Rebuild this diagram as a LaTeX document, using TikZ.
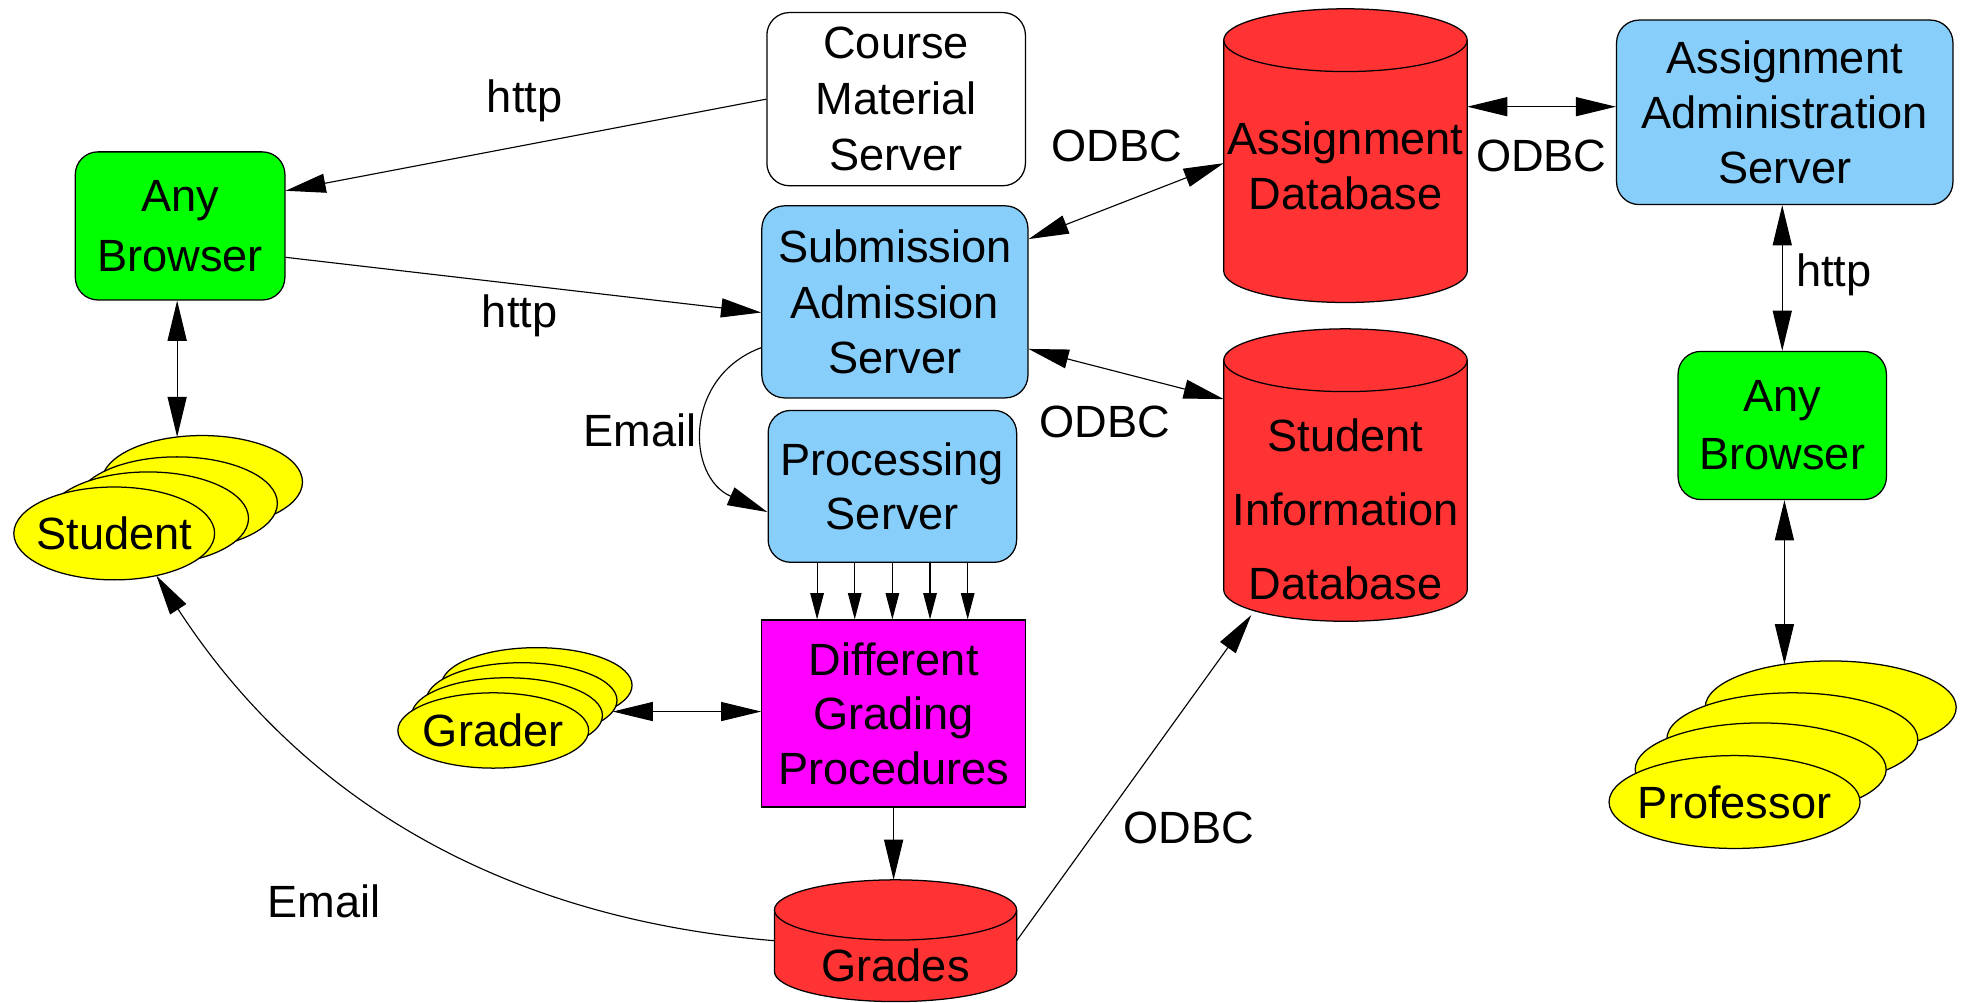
\documentclass[tikz,border=0pt]{standalone}
\usepackage{fontspec}
\setmainfont{Liberation Sans}
\usetikzlibrary{arrows.meta,shapes.geometric,calc,backgrounds}
\definecolor{cgreen}{RGB}{0,255,0}
\definecolor{cblue}{RGB}{135,206,250}
\definecolor{cred}{RGB}{255,51,51}
\definecolor{cmag}{RGB}{255,0,255}
\definecolor{cyel}{RGB}{255,255,0}
\newcommand\myfs[1]{\fontsize{18}{#1}\selectfont}
% cylinder drawn behind a named box node: name, half width, ellipse y radius
\newcommand\dbcyl[3]{%
  \begin{scope}[on background layer]
    \filldraw[fill=cred, draw=black, line width=0.5pt]
      ($(#1.north west)+(0,-#3)$) -- ($(#1.south west)+(0,#3)$)
      arc[start angle=180, end angle=360, x radius=#2, y radius=#3]
      -- ($(#1.north east)+(0,-#3)$)
      arc[start angle=0, end angle=180, x radius=#2, y radius=#3] -- cycle;
    \draw[line width=0.5pt] ($(#1.north west)+(0,-#3)$)
      arc[start angle=180, end angle=360, x radius=#2, y radius=#3];
  \end{scope}}
\begin{document}
\begin{tikzpicture}[x=0.5pt,y=-0.5pt,
  rbox/.style={draw=black, line width=0.5pt, rounded corners=9pt, align=center, inner sep=2pt, font=\myfs{22}},
  sbox/.style={draw=black, line width=0.5pt, align=center, inner sep=2pt, font=\myfs{22}},
  dbbox/.style={draw=none, inner sep=0pt, outer sep=0pt},
  dblbl/.style={align=center, inner sep=0pt, font=\myfs{22}},
  pers/.style={ellipse, draw=black, fill=cyel, line width=0.5pt, inner sep=0pt, outer sep=0pt, font=\myfs{22}},
  lbl/.style={inner sep=0pt, font=\myfs{22}},
  arr/.style={-{Triangle[length=16pt,width=7.6pt]}, line width=0.45pt},
  dbl/.style={{Triangle[length=16pt,width=7.6pt]}-{Triangle[length=16pt,width=7.6pt]}, line width=0.45pt},
  sarr/.style={-{Triangle[length=10.5pt,width=5.4pt]}, line width=0.45pt}]
\useasboundingbox (0,0) rectangle (1568,799);

% boxes
\node[rbox, fill=white, minimum width=103pt, minimum height=69pt, font=\myfs{22.25}] (cms) at (714,79) {Course\\Material\\Server};
\node[rbox, fill=cgreen, minimum width=83.5pt, minimum height=59pt, font=\myfs{24}] (brl) at (143.5,180) {Any\\Browser};
\node[rbox, fill=cblue, minimum width=106pt, minimum height=76.5pt] (sas) at (713,240.5) {Submission\\Admission\\Server};
\node[rbox, fill=cblue, minimum width=99pt, minimum height=60.5pt, font=\myfs{21.5}] (ps) at (711,387.5) {Processing\\Server};
\node[sbox, fill=cmag, minimum width=105pt, minimum height=74.5pt, font=\myfs{21.75}] (gp) at (712,568.5) {Different\\Grading\\Procedures};
\node[rbox, fill=cblue, minimum width=134pt, minimum height=73.5pt] (aas) at (1422,89.5) {Assignment\\Administration\\Server};
\node[rbox, fill=cgreen, minimum width=83pt, minimum height=59pt, font=\myfs{23}] (brr) at (1420,339) {Any\\Browser};

% databases
\node[dbbox, minimum width=97pt, minimum height=117pt, label={[dblbl, yshift=-4pt]center:{Assignment\\Database}}] (adb) at (1072,124) {};
\node[dbbox, minimum width=97pt, minimum height=116.5pt, label={[dblbl, font=\myfs{29.5}, yshift=-13.75pt]center:{Student\\Information\\Database}}] (sid) at (1072,378.5) {};
\node[dbbox, minimum width=96.5pt, minimum height=48.5pt, label={[dblbl, yshift=-9.75pt]center:{Grades}}] (gr) at (713.5,749.5) {};
\dbcyl{adb}{48.5pt}{12.5pt}
\dbcyl{sid}{48.5pt}{12.5pt}
\dbcyl{gr}{48.25pt}{12pt}

% people stacks
\node[pers, minimum width=80pt, minimum height=37pt] (stu4) at (161,384) {};
\node[pers, minimum width=80pt, minimum height=37pt] (stu3) at (141,401) {};
\node[pers, minimum width=80pt, minimum height=37pt] (stu2) at (118,413) {};
\node[pers, minimum width=80pt, minimum height=37pt] (stu1) at (91,425) {\makebox[0pt]{Student}};

\node[pers, minimum width=76pt, minimum height=30pt] (gra4) at (427.6,546) {};
\node[pers, minimum width=76pt, minimum height=30pt] (gra3) at (415.6,558) {};
\node[pers, minimum width=76pt, minimum height=30pt] (gra2) at (404,570) {};
\node[pers, minimum width=76pt, minimum height=30pt] (gra1) at (393,582) {\makebox[0pt]{Grader}};

\node[pers, minimum width=100pt, minimum height=37pt] (pro4) at (1458.6,563.6) {};
\node[pers, minimum width=100pt, minimum height=37pt] (pro3) at (1428,589) {};
\node[pers, minimum width=100pt, minimum height=37pt] (pro2) at (1402.8,613) {};
\node[pers, minimum width=100pt, minimum height=37pt] (pro1) at (1382,639) {\makebox[0pt]{Professor}};

% connectors
\draw[arr] (cms.west) -- ([yshift=14pt]brl.east);
\draw[arr] ([yshift=-12.5pt]brl.east) -- ([yshift=-4.25pt]sas.west);
\draw[dbl] (stu4.119 |- brl.south) -- (stu4.119);
\draw[dbl] ([yshift=25pt]sas.east) -- ([yshift=-3pt]adb.west);
\draw[dbl] ([yshift=-18.75pt]sas.east) -- ([yshift=30.25pt]sid.west);
\draw[dbl] ([yshift=19.5pt]adb.east) -- ([yshift=19.5pt]adb.east -| aas.west);
\draw[dbl] (brr.north |- aas.south) -- (brr.north);
\draw[dbl] (pro4.137 |- brr.south) -- (pro4.137);
\draw[arr] ([yshift=-18.25pt]sas.west) .. controls +(-62,23) and +(-65,-28) .. ([yshift=-10.25pt]ps.west);
\foreach \dx in {-60,-30,0,30,60}
  \draw[sarr] ([xshift=\dx*0.5pt]ps.south) -- ([xshift=\dx*0.5pt]ps.south |- gp.north);
\draw[dbl] (gra3.-7) -- (gra3.-7 -| gp.west);
\draw[arr] (gp.south) -- (gp.south |- gr.north);
\draw[arr] (gr.west) .. controls +(-237,-19.5) and +(105,162) .. (stu1.-45);
\draw[arr] (gr.east) -- ($(sid.south west)+(22,-5)$);

% connector labels
\node[lbl] (l1) at (418,80) {http};
\node[lbl] (l2) at (414,252) {http};
\node[lbl] (l3) at (890,116) {ODBC};
\node[lbl] (l4) at (880,336) {ODBC};
\node[lbl] (l5) at (1228,124) {ODBC};
\node[lbl] (l6) at (1461,219) {http};
\node[lbl] (l7) at (510,343) {Email};
\node[lbl] (l8) at (258,718) {Email};
\node[lbl] (l9) at (947,660) {ODBC};
\end{tikzpicture}
\end{document}
